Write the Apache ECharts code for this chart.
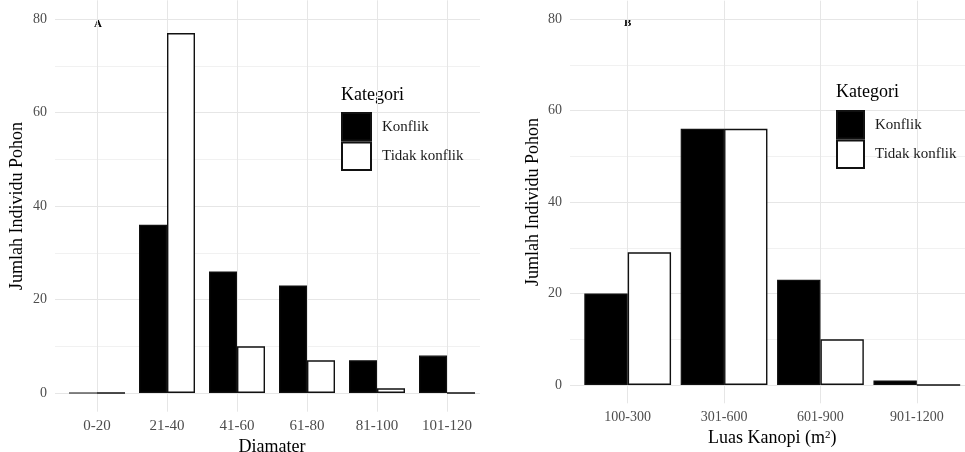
<!DOCTYPE html>
<html>
<head>
<meta charset="utf-8">
<script src="https://cdn.jsdelivr.net/npm/echarts@6/dist/echarts.min.js"></script>
<style>
  html, body { margin: 0; padding: 0; background: #fff; }
  #chart { width: 965px; height: 452px; }
</style>
</head>
<body>
<div id="chart"></div>
<script>
// Panel A: tree counts by trunk diameter class
const diameterCats = ['0-20', '21-40', '41-60', '61-80', '81-100', '101-120'];
const diameterKonflik = [0, 36, 26, 23, 7, 8];
const diameterTidak = [0, 77, 10, 7, 1, 0];

// Panel B: tree counts by canopy area class
const kanopiCats = ['100-300', '301-600', '601-900', '901-1200'];
const kanopiKonflik = [20, 56, 23, 1];
const kanopiTidak = [29, 56, 10, 0];

// Count axis
const countMin = 0;
const countMax = 80;
const countStep = 20;
const countPad = 4; // padding below 0 and above 80 of the panel area

const SERIF = 'Liberation Serif';
const GRID_MAJOR = '#e6e6e6';
const GRID_MINOR = '#f1f1f1';
const TICK_COLOR = '#4d4d4d';

const chart = echarts.init(document.getElementById('chart'), null, { renderer: 'canvas' });

function countAxis(gridIndex, nameGap) {
  return {
    type: 'value', gridIndex: gridIndex,
    min: countMin, max: countMax, interval: countStep,
    name: 'Jumlah Individu Pohon', nameLocation: 'middle', nameGap: nameGap,
    nameTextStyle: { fontFamily: SERIF, fontSize: 18, color: '#000' },
    axisLine: { show: false }, axisTick: { show: false },
    axisLabel: { fontFamily: SERIF, fontSize: 14, color: TICK_COLOR, margin: 8 },
    splitLine: { show: true, lineStyle: { color: GRID_MAJOR, width: 1 } },
    minorTick: { show: false, splitNumber: 2 },
    minorSplitLine: { show: true, lineStyle: { color: GRID_MINOR, width: 1 } }
  };
}

function paddedAxis(gridIndex) {
  return {
    type: 'value', gridIndex: gridIndex,
    min: countMin - countPad, max: countMax + countPad,
    show: false, splitLine: { show: false }
  };
}

function hiddenX(gridIndex) {
  return { type: 'value', gridIndex: gridIndex, show: false, splitLine: { show: false } };
}

function categoryAxis(gridIndex, cats, name, nameGap, labelSize, rich) {
  return {
    type: 'category', gridIndex: gridIndex, data: cats,
    name: name, nameLocation: 'middle', nameGap: nameGap,
    nameTextStyle: { fontFamily: SERIF, fontSize: 18, color: '#000', rich: rich || {} },
    axisLine: { show: false }, axisTick: { show: false },
    axisLabel: { fontFamily: SERIF, fontSize: labelSize, color: TICK_COLOR, margin: 7, interval: 0 },
    splitLine: { show: true, alignWithLabel: true, lineStyle: { color: GRID_MAJOR, width: 1 } }
  };
}

const konflikStyle = { color: '#000000', borderColor: '#111111', borderWidth: 1.2 };
const tidakStyle = { color: '#ffffff', borderColor: '#111111', borderWidth: 1.4 };

function barSeries(name, data, axisIndex, width, style) {
  return {
    type: 'bar', name: name, data: data,
    xAxisIndex: axisIndex, yAxisIndex: axisIndex,
    barWidth: width, barGap: '0%',
    itemStyle: style, emphasis: { disabled: true },
    animation: false, z: 3
  };
}

function legend(left, top, w, h) {
  return {
    orient: 'vertical', left: left, top: top, padding: 0,
    itemWidth: w, itemHeight: h, itemGap: 0, icon: 'rect',
    data: ['Konflik', 'Tidak konflik'],
    textStyle: { fontFamily: SERIF, fontSize: 15, color: '#1a1a1a', padding: [0, 0, 0, 6] },
    selectedMode: false
  };
}

function grid(left, top, width, height) {
  return { left: left, top: top, width: width, height: height, containLabel: false, outerBoundsMode: 'none' };
}

const option = {
  backgroundColor: '#ffffff',
  animation: false,
  grid: [
    grid(55, 19, 425, 374),        // A: count grid lines
    grid(62, 0.3, 420, 411.4),     // A: bars
    grid(570, 19, 395, 366),       // B: count grid lines
    grid(579.5, 0.7, 385.5, 402.6) // B: bars
  ],
  xAxis: [
    hiddenX(0),
    categoryAxis(1, diameterCats, 'Diamater', 20, 15),
    hiddenX(2),
    categoryAxis(3, kanopiCats, 'Luas Kanopi (m{sup|2})', 25, 14,
      { sup: { fontFamily: SERIF, fontSize: 11, color: '#000', verticalAlign: 'top', padding: [0, 0, 8, 0] } })
  ],
  yAxis: [
    countAxis(0, 29),
    paddedAxis(1),
    countAxis(2, 28),
    paddedAxis(3)
  ],
  legend: [legend(341, 112, 29, 27.5), legend(836, 110, 27, 27.5)],
  graphic: [
    { type: 'text', left: 94, top: 19, style: { text: 'A', font: 'bold 11px "Liberation Serif"', fill: '#000' } },
    { type: 'text', left: 624, top: 18, style: { text: 'B', font: 'bold 11px "Liberation Serif"', fill: '#000' } },
    { type: 'text', left: 341, top: 86, style: { text: 'Kategori', font: '18px "Liberation Serif"', fill: '#000' } },
    { type: 'text', left: 836, top: 83, style: { text: 'Kategori', font: '18px "Liberation Serif"', fill: '#000' } }
  ],
  series: [
    barSeries('Konflik', diameterKonflik, 1, '40%', konflikStyle),
    barSeries('Tidak konflik', diameterTidak, 1, '40%', tidakStyle),
    barSeries('Konflik', kanopiKonflik, 3, '45%', konflikStyle),
    barSeries('Tidak konflik', kanopiTidak, 3, '45%', tidakStyle)
  ]
};

chart.setOption(option);
</script>
</body>
</html>
